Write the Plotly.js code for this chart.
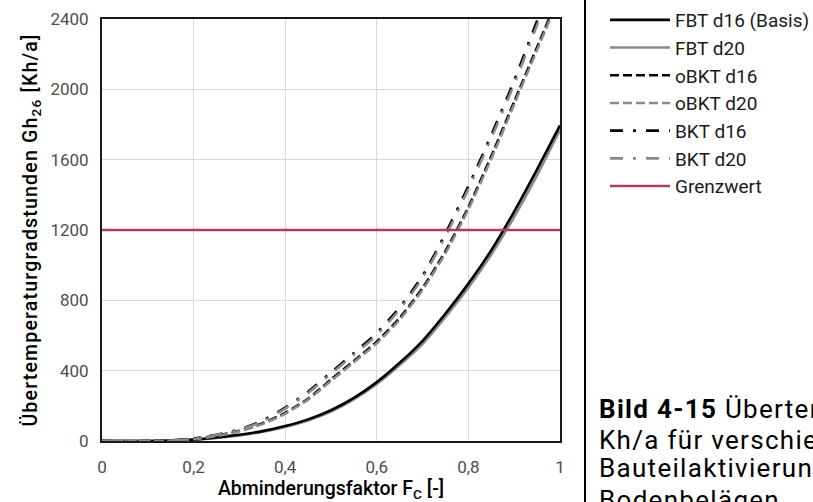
<!DOCTYPE html>
<html>
<head>
<meta charset="utf-8">
<script src="https://cdn.plot.ly/plotly-3.0.1.min.js"></script>
<style>
html,body{margin:0;padding:0;overflow:hidden;background:#fff;}
#chart{width:813px;height:502px;}
.annotation-text{letter-spacing:1.3px;}
.g-ytitle text{letter-spacing:1.2px;}
</style>
</head>
<body>
<div id="chart"></div>
<script>
// Abminderungsfaktor F_C
var fc = [0,0.05,0.1,0.15,0.2,0.25,0.3,0.35,0.4,0.45,0.5,0.55,0.6,0.65,0.7,0.75,0.8,0.85,0.9,0.95,1.0];
// Übertemperaturgradstunden Gh26 [Kh/a]
var fbtD16  = [0,0,0,2,8,20,36,56,85,123,175,245,335,445,570,725,895,1085,1305,1545,1795];
var fbtD20  = [0,0,0,1,6,17,32,52,80,117,167,236,324,432,553,706,873,1060,1275,1512,1770];
var obktD16 = [0,0,0,3,12,30,58,100,160,240,350,455,565,700,870,1080,1330,1620,1930,2240,2550];
var obktD20 = [0,0,0,2,10,28,55,96,155,235,342,448,556,690,860,1068,1318,1605,1915,2225,2535];
var bktD16  = [0,0,0,4,15,36,66,115,190,280,390,500,615,760,940,1180,1450,1740,2050,2390,2720];
var bktD20  = [0,0,0,3,13,34,63,110,184,273,382,490,603,748,928,1165,1433,1722,2030,2365,2695];
var grenzX = [0,1];
var grenzY = [1200,1200];
var seriesNames = ["FBT d16 (Basis)","FBT d20","oBKT d16","oBKT d20","BKT d16","BKT d20","Grenzwert"];
var yTicks = [0,400,800,1200,1600,2000,2400];
var xTicks = [0,0.2,0.4,0.6,0.8,1];
var xTickText = ["0","0,2","0,4","0,6","0,8","1"];
var captionLines = [
  "<b>Bild 4-15</b> Übertemperaturgradstunden Gh<sub>26</sub> in",
  "Kh/a für verschiedene Varianten der",
  "Bauteilaktivierung und",
  "Bodenbelägen"
];

var BLACK = "#000000", GRAY = "#8a8a8a", MAG = "#b0386f";
var W = 2.6;
var DASH = "9px,4px";
var DASHDOT = "13px,10px,3px,10px";

function tr(y, name, color, dash, rank){
  return {x: fc, y: y, name: name, type: "scatter", mode: "lines",
    line: {color: color, width: W, dash: dash, shape: "spline", smoothing: 0.6},
    legendrank: rank, hoverinfo: "skip"};
}
var data = [
  tr(fbtD20, seriesNames[1], GRAY, "solid", 2),
  tr(fbtD16, seriesNames[0], BLACK, "solid", 1),
  tr(obktD16, seriesNames[2], BLACK, DASH, 3),
  tr(obktD20, seriesNames[3], GRAY, DASH, 4),
  tr(bktD16, seriesNames[4], BLACK, DASHDOT, 5),
  tr(bktD20, seriesNames[5], GRAY, DASHDOT, 6),
  {x: grenzX, y: grenzY, name: seriesNames[6], type: "scatter", mode: "lines",
   line: {color: MAG, width: W}, legendrank: 7, hoverinfo: "skip"}
];

var L = 102, R = 253, T = 19, B = 61;
var PW = 813 - L - R, PH = 502 - T - B;
function px(x){ return (x - L) / PW; }
function py(y){ return (502 - B - y) / PH; }

var FONT = "Roboto, 'Liberation Sans', sans-serif";
var capY = [410, 440, 468, 500];
var annotations = captionLines.map(function(t, i){
  return {xref: "paper", yref: "paper", x: px(597), y: py(capY[i]), xanchor: "left", yanchor: "middle",
    showarrow: false, align: "left", font: {family: FONT, size: 26, color: "#000000"}, text: t};
});

var layout = {
  width: 813, height: 502,
  margin: {l: L, r: R, t: T, b: B, pad: 0, autoexpand: false},
  paper_bgcolor: "#ffffff", plot_bgcolor: "#ffffff",
  font: {family: FONT, size: 16, color: "#262626"},
  showlegend: true,
  legend: {x: px(605), y: py(1), xanchor: "left", yanchor: "top",
    font: {family: FONT, size: 19, color: "#1a1a1a"}, itemwidth: 60,
    bgcolor: "rgba(0,0,0,0)", borderwidth: 0, tracegroupgap: 0},
  xaxis: {range: [0, 1], tickvals: xTicks, ticktext: xTickText,
    showgrid: true, gridcolor: "#d9d9d9", gridwidth: 1,
    showline: true, linecolor: "#1a1a1a", linewidth: 2, mirror: true,
    zeroline: false, ticks: "", ticklabelstandoff: 10,
    tickfont: {family: FONT, size: 17, color: "#4d4d4d"},
    title: {text: "Abminderungsfaktor F<sub>C</sub> [-]", standoff: 8,
      font: {family: FONT, size: 19.5, color: "#000000", weight: 500}}},
  yaxis: {range: [0, 2400], tickvals: yTicks,
    showgrid: true, gridcolor: "#d9d9d9", gridwidth: 1,
    showline: true, linecolor: "#1a1a1a", linewidth: 2, mirror: true,
    zeroline: false, ticks: "", ticklabelstandoff: 8,
    tickfont: {family: FONT, size: 17, color: "#4d4d4d"},
    title: {text: "Übertemperaturgradstunden Gh<sub>26</sub> [Kh/a]", standoff: 8,
      font: {family: FONT, size: 19.5, color: "#000000", weight: 500}}},
  shapes: [
    {type: "line", xref: "paper", yref: "paper", x0: px(585), x1: px(585), y0: py(-2), y1: py(504),
     line: {color: "#000000", width: 2}}
  ],
  annotations: annotations
};
Plotly.newPlot("chart", data, layout, {staticPlot: true, displayModeBar: false});
</script>
</body>
</html>
